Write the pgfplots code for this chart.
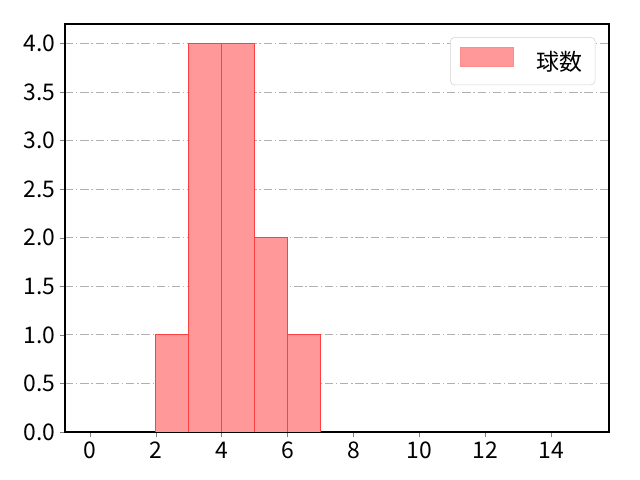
\documentclass[border=0pt]{standalone}
\usepackage{fontspec}
\setmainfont{Noto Sans CJK JP}
\usepackage{pgfplots}
\pgfplotsset{compat=1.18}
\definecolor{barfill}{HTML}{FF9999}
\definecolor{baredge}{HTML}{FF4040}
\definecolor{gridgray}{HTML}{B0B0B0}
\begin{document}
\begin{tikzpicture}[x=1pt,y=1pt]
\path[use as bounding box] (-46.8,-34.56) rectangle (414,311.04);
\begin{axis}[
    at={(0,0)}, anchor=south west,
    scale only axis,
    width=391.7pt, height=293.76pt,
    xmin=-0.75, xmax=15.75,
    ymin=0, ymax=4.2,
    xtick={0,2,...,14},
    ytick={0,0.5,...,4.0},
    yticklabel style={/pgf/number format/.cd, fixed, fixed zerofill, precision=1},
    /pgf/number format/assume math mode=true,
    tick label style={font=\fontsize{16.5}{19}\selectfont},
    tick align=outside,
    tick pos=left,
    major tick length=3.6pt,
    ymajorgrids,
    grid style={gridgray, line width=0.6pt, dash pattern=on 6pt off 2pt on 1pt off 2pt},
    axis line style={line width=0.9pt},
    legend style={at={(0.975,0.968)}, anchor=north east, draw=gray!35, rounded corners=3pt,
        font=\fontsize{16.5}{19}\selectfont, inner xsep=7pt, inner ysep=7pt},
    legend cell align=left,
    legend image code/.code={\draw[sharp corners, draw=baredge!60, fill=barfill] (0cm,-0.12cm) rectangle (1.35cm,0.36cm);},
]
\addplot[ybar, bar width=1, bar shift=0, fill=barfill, draw=baredge, line width=0.6pt] coordinates {
    (2.5,1) (3.5,4) (4.5,4) (5.5,2) (6.5,1)
};
\addlegendentry{\hspace{0.5cm}球数}
\end{axis}
\end{tikzpicture}
\end{document}
